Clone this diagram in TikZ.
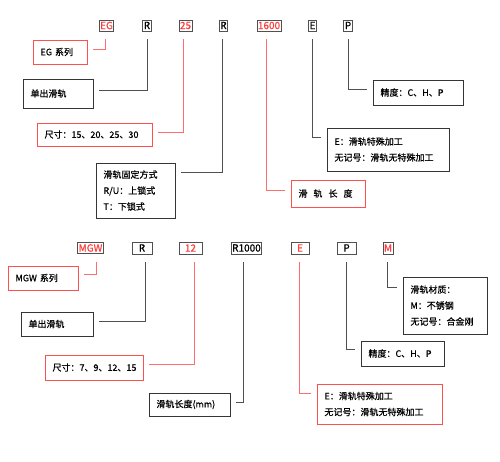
\documentclass[tikz,border=0pt]{standalone}
\usepackage{fontspec}
\setmainfont{Noto Sans CJK SC}[FakeBold=0.8]
\definecolor{codered}{HTML}{FF3B3B}
\definecolor{boxred}{HTML}{FF5050}
\definecolor{linered}{HTML}{FF6E6E}
\definecolor{codegray}{HTML}{505050}
\definecolor{boxgray}{HTML}{353535}
\tikzset{
  code/.style={draw=codegray, line width=0.8pt, inner xsep=1pt, inner ysep=0pt,
    font=\fontsize{10}{10}\selectfont, minimum height=11pt},
  redcode/.style={code, text=codered},
  info/.style={draw=boxgray, line width=0.8pt, inner xsep=7.5pt, inner ysep=2pt,
    align=left, font=\fontsize{9}{16}\selectfont},
  redinfo/.style={info, draw=boxred},
  leader/.style={draw=codegray, line width=0.8pt, shorten <=8pt, shorten >=6pt},
  redleader/.style={leader, draw=linered}
}
\begin{document}
\begin{tikzpicture}[x=1pt, y=-1pt]
    \useasboundingbox (0,0) rectangle (500,462);
    % EG
    \node[redcode] (eg) at (106.5,25.5) {EG};
    \node[code] (r1) at (147,25.5) {R};
    \node[redcode] (s25) at (185.5,25.5) {25};
    \node[code] (r2) at (223.5,25.5) {R};
    \node[redcode] (len1) at (269,25.5) {1600};
    \node[code] (e1) at (312.5,25.5) {E};
    \node[code] (p1) at (348,25.5) {P};
    \node[redinfo, text width=39pt, minimum height=24pt] (series1) at (60,52) {EG 系列};
    \node[info, text width=55pt, minimum height=29pt] (rail1) at (58,93.5) {单出滑轨};
    \node[redinfo, text width=100pt, minimum height=23pt] (size1) at (94.5,134.5) {尺寸：15、20、25、30};
    \node[info, text width=64pt, minimum height=55pt] (fix) at (135.5,190.5) {滑轨固定方式\\R/U：上锁式\\T：下锁式};
    \node[redinfo, text width=59pt, minimum height=27pt] (lenbox1) at (328,193.5) {滑\hspace{6pt}轨\hspace{6pt}长\hspace{6pt}度};
    \node[info, text width=107pt, minimum height=43pt] (spec1) at (388,149.5) {E：滑轨特殊加工\\无记号：滑轨无特殊加工};
    \node[info, text width=75pt, minimum height=25pt] (prec1) at (418,92.5) {精度：C、H、P};
    \draw[redleader] ([xshift=-1.5pt]eg.south) |- ([yshift=3pt]series1.east);
    \draw[leader] (r1.south) |- ([yshift=3.5pt]rail1.east);
    \draw[redleader] ([xshift=-2pt]s25.south) |- ([yshift=2.5pt]size1.east);
    \draw[leader] ([xshift=-1.5pt]r2.south) |- ([yshift=18.5pt]fix.east);
    \draw[redleader] ([xshift=-3pt]len1.south) |- ([yshift=3.5pt]lenbox1.west);
    \draw[leader] (e1.south) |- ([yshift=12.5pt]spec1.west);
    \draw[leader] (p1.south) |- ([yshift=3.5pt]prec1.west);
    % MGW
    \node[redcode] (mgw) at (90.5,248) {MGW};
    \node[code, minimum width=20pt, minimum height=12pt] (r3) at (142,248) {R};
    \node[redcode, minimum width=23pt, minimum height=12pt] (s12) at (190.5,248) {12};
    \node[code, minimum height=12pt] (len2) at (246.5,248) {R1000};
    \node[redcode, minimum width=18pt, minimum height=12pt] (e2) at (300,248) {E};
    \node[code, minimum width=19pt, minimum height=12pt] (p2) at (346.5,248) {P};
    \node[redcode, minimum height=12pt] (m) at (388,248) {M};
    \node[redinfo, text width=55pt, minimum height=24pt] (series2) at (43,278) {MGW 系列};
    \node[info, text width=57pt, minimum height=24pt] (rail2) at (57,324) {单出滑轨};
    \node[redinfo, text width=83pt, minimum height=25pt] (size2) at (94,367.5) {尺寸：7、9、12、15};
    \node[info, text width=66pt, minimum height=23pt] (lenbox2) at (189.5,404.5) {滑轨长度(mm)};
    \node[redinfo, text width=110pt, minimum height=40pt] (spec2) at (379.5,404) {E：滑轨特殊加工\\无记号：滑轨无特殊加工};
    \node[info, text width=68pt, minimum height=25pt] (prec2) at (402.5,353.5) {精度：C、H、P};
    \node[info, text width=69pt, minimum height=57pt] (mat) at (445,305.5) {滑轨材质：\\M：不锈钢\\无记号：合金刚};
    \draw[redleader] ([xshift=5.5pt]mgw.south) |- ([yshift=4pt]series2.east);
    \draw[leader] ([xshift=3pt]r3.south) |- ([yshift=3pt]rail2.east);
    \draw[redleader] ([xshift=3.5pt]s12.south) |- ([yshift=3.5pt]size2.east);
    \draw[leader] ([xshift=-3.5pt]len2.south) |- ([yshift=2.5pt]lenbox2.east);
    \draw[redleader] ([xshift=-1pt]e2.south) |- ([yshift=11pt]spec2.west);
    \draw[leader] (p2.south) |- ([yshift=4.5pt]prec2.west);
    \draw[leader] ([xshift=-1pt]m.south) |- ([yshift=18.5pt]mat.west);
\end{tikzpicture}
\end{document}
